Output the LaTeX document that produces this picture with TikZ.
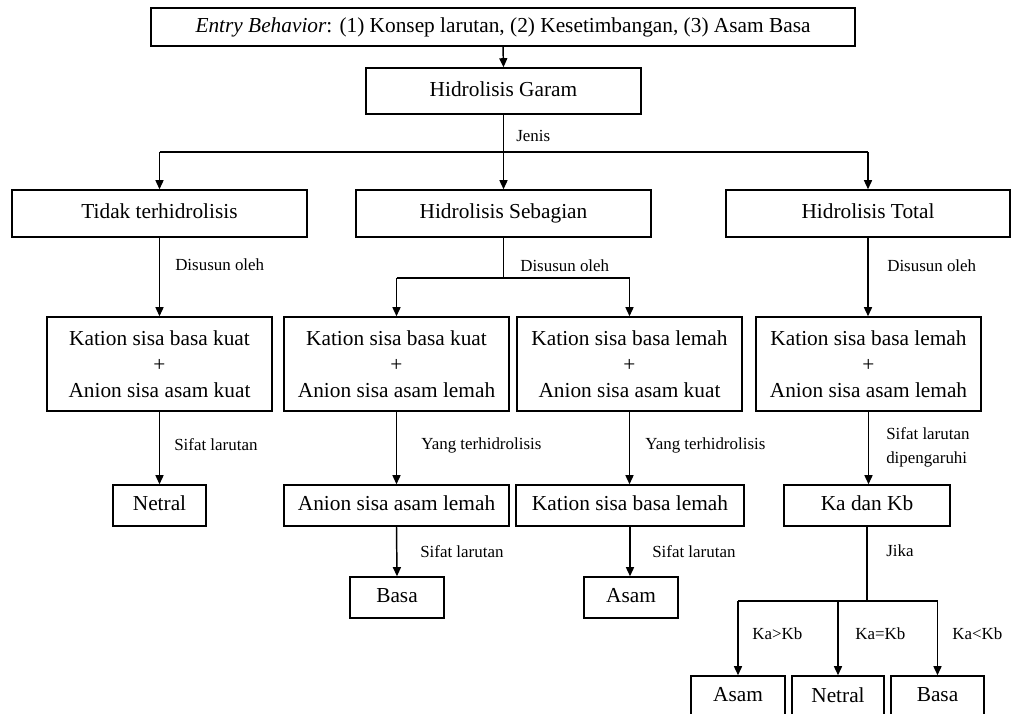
\documentclass[tikz,border=0pt]{standalone}
\usepackage{fontspec}
\setmainfont{Liberation Serif}
\usetikzlibrary{arrows.meta}
\tikzset{
 box/.style={draw, line width=1.1pt, inner sep=0pt, align=center, font=\fontsize{16}{19.5}\selectfont},
 lbl/.style={anchor=west, inner sep=0pt, font=\fontsize{12.7}{15}\selectfont},
 arr/.style={line width=1.1pt, -{Triangle[length=6.8pt,width=6pt]}},
 ln/.style={line width=1.1pt},
}
\newcommand\bx[6]{\node[box, minimum width={(#4-#2)*0.75pt}, minimum height={(#5-#3)*0.75pt}] (#1) at ({(#2+#4)/2},{(#3+#5)/2}) {#6};}
\newcommand\one[1]{\vphantom{Hg}#1}
\begin{document}
\begin{tikzpicture}[x=0.75pt,y=-0.75pt]
\useasboundingbox (0,0) rectangle (1012,713);
\bx{entry}{151}{8}{855}{46}{\one{\textit{Entry Behavior}: (1) Konsep larutan, (2) Kesetimbangan, (3) Asam Basa}}
\bx{garam}{366}{68}{641}{114}{\one{Hidrolisis Garam}}
\bx{tidak}{12}{190}{307}{237}{\one{Tidak terhidrolisis}}
\bx{sebagian}{356}{190}{651}{237}{\one{Hidrolisis Sebagian}}
\bx{total}{726}{190}{1010}{237}{\one{Hidrolisis Total}}
\bx{kA}{47}{317}{272}{411}{Kation sisa basa kuat\\+\\Anion sisa asam kuat}
\bx{kB}{284}{317}{509}{411}{Kation sisa basa kuat\\+\\Anion sisa asam lemah}
\bx{kC}{517}{317}{742}{411}{Kation sisa basa lemah\\+\\Anion sisa asam kuat}
\bx{kD}{756}{317}{981}{411}{Kation sisa basa lemah\\+\\Anion sisa asam lemah}
\bx{netralA}{113}{485}{206}{526}{\one{Netral}}
\bx{anion}{284}{485}{509}{526}{\one{Anion sisa asam lemah}}
\bx{kation}{516}{485}{744}{526}{\one{Kation sisa basa lemah}}
\bx{kakb}{784}{485}{950}{526}{\one{Ka dan Kb}}
\bx{basaA}{350}{577}{444}{618}{\one{Basa}}
\bx{asamA}{584}{577}{678}{618}{\one{Asam}}
\bx{asamB}{691}{676}{785}{718}{\one{Asam}}
\bx{netralB}{792}{676}{884}{718}{\one{Netral}}
\bx{basaB}{891}{676}{984}{718}{\one{Basa}}
% helper levels
\coordinate (h1) at (0,152);
\coordinate (h2) at (0,278);
\coordinate (h3) at (0,601);
% connectors
\draw[arr] (entry.south) -- (garam.north);
\draw[ln] (garam.south) -- (garam.south |- h1);
\draw[ln] (tidak.north |- h1) -- (total.north |- h1);
\draw[arr] (tidak.north |- h1) -- (tidak.north);
\draw[arr] (sebagian.north |- h1) -- (sebagian.north);
\draw[arr] (total.north |- h1) -- (total.north);
\draw[ln] (sebagian.south) -- (sebagian.south |- h2);
\draw[ln] (kB.north |- h2) -- (kC.north |- h2);
\draw[arr] (kB.north |- h2) -- (kB.north);
\draw[arr] (kC.north |- h2) -- (kC.north);
\draw[arr] (tidak.south) -- (kA.north);
\draw[arr] (total.south) -- (total.south |- kD.north);
\draw[arr] (kA.south) -- (netralA.north);
\draw[arr] (kB.south) -- (anion.north);
\draw[arr] (kC.south) -- (kC.south |- kation.north);
\draw[arr] (kD.south) -- (kD.south |- kakb.north);
\draw[arr] (anion.south) -- (basaA.north);
\draw[arr] (kation.south) -- (kation.south |- asamA.north);
\draw[ln] (kakb.south) -- (kakb.south |- h3);
\draw[ln] (asamB.north |- h3) -- (basaB.north |- h3);
\draw[arr] (asamB.north |- h3) -- (asamB.north);
\draw[arr] (netralB.north |- h3) -- (netralB.north);
\draw[arr] (basaB.north |- h3) -- (basaB.north);
% labels
\node[lbl] (lJenis) at (516,136) {Jenis};
\node[lbl] (lDa) at (175,265) {Disusun oleh};
\node[lbl] (lDb) at (520,266) {Disusun oleh};
\node[lbl] (lDc) at (887,266) {Disusun oleh};
\node[lbl] (lSa) at (174,445) {Sifat larutan};
\node[lbl] (lYa) at (421,445) {Yang terhidrolisis};
\node[lbl] (lYb) at (645,445) {Yang terhidrolisis};
\node[lbl] (lSd1) at (886,434) {Sifat larutan};
\node[lbl] (lSd2) at (886,459) {dipengaruhi};
\node[lbl] (lSb) at (420,552) {Sifat larutan};
\node[lbl] (lSc) at (652,552) {Sifat larutan};
\node[lbl] (lJika) at (886,551) {Jika};
\node[lbl] (lK1) at (752,634) {Ka>Kb};
\node[lbl] (lK2) at (855,634) {Ka=Kb};
\node[lbl] (lK3) at (952,634) {Ka<Kb};
\end{tikzpicture}
\end{document}
